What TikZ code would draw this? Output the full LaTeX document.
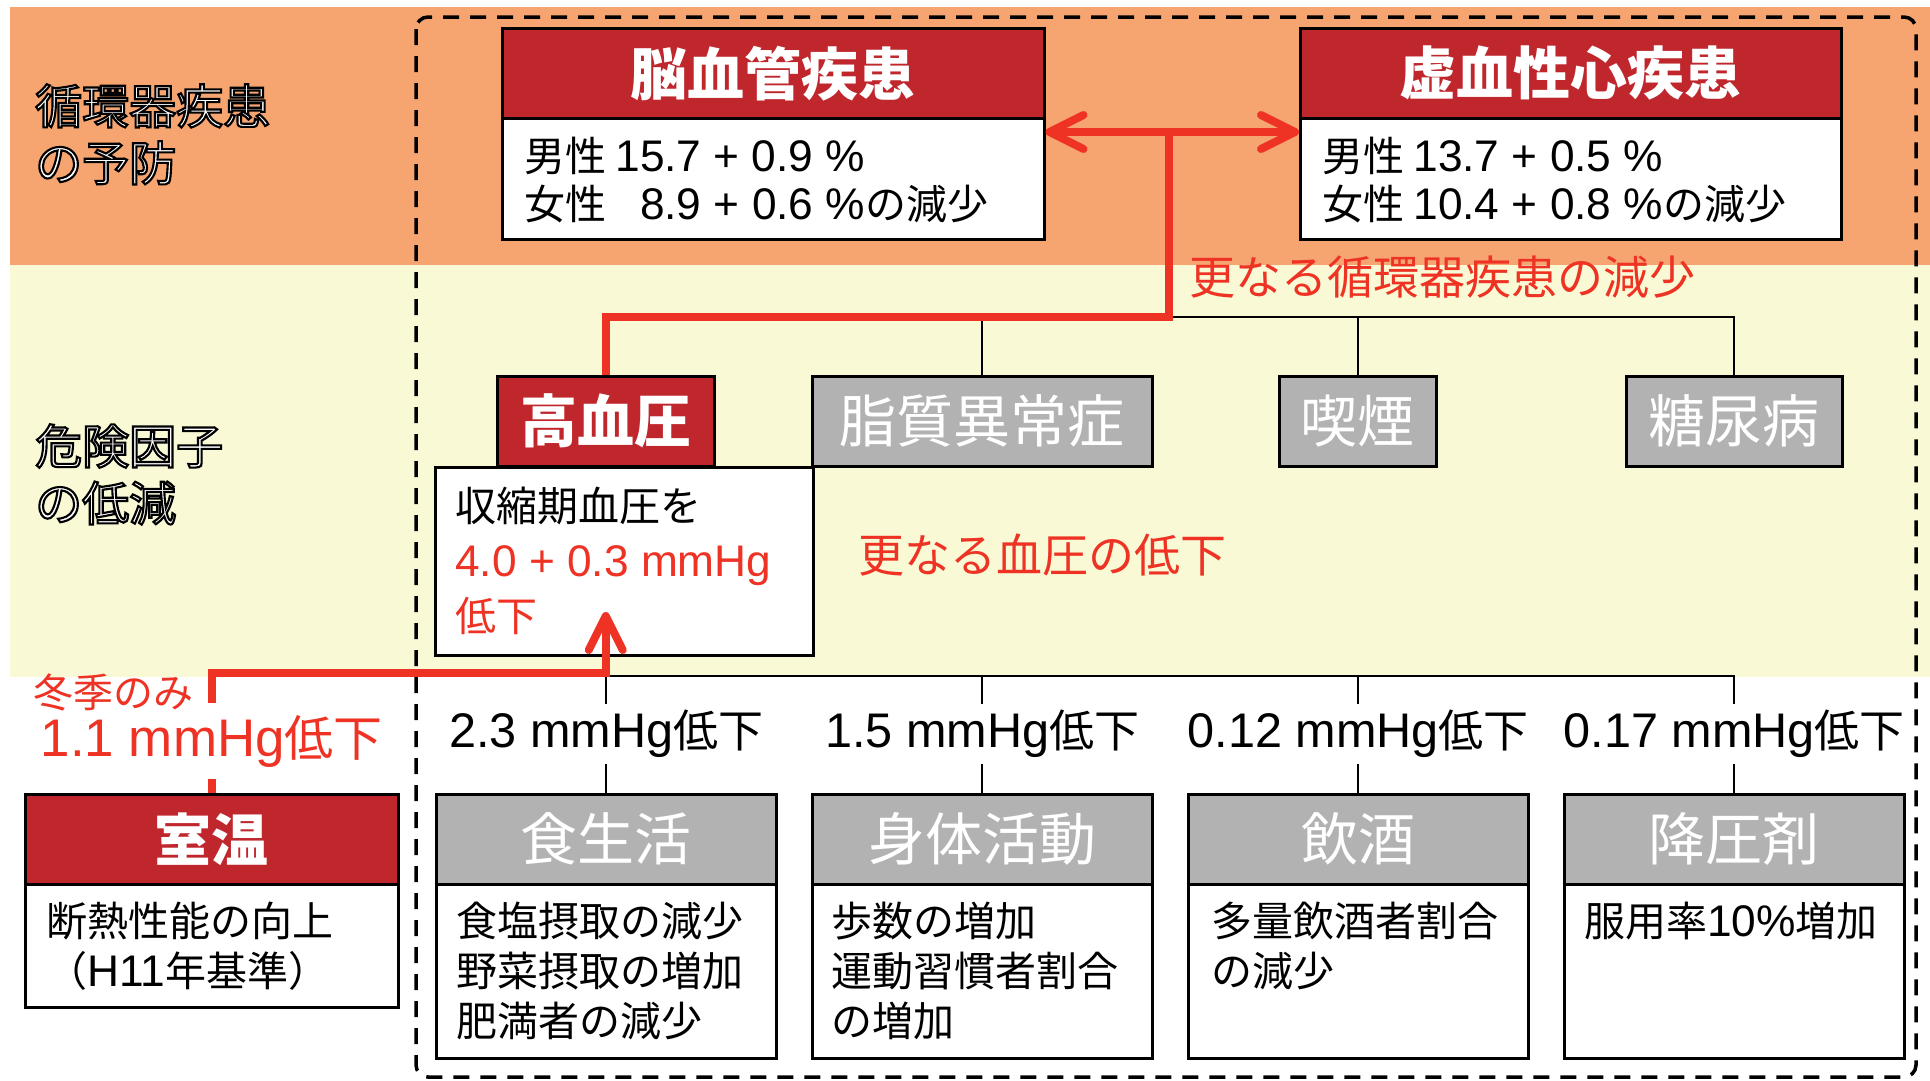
\documentclass[tikz,border=0pt]{standalone}
\usepackage{fontspec}
\setmainfont{Noto Sans CJK JP}
\newfontfamily\lat{Liberation Sans}[Scale=1.08]
\newfontfamily\outfont{Noto Sans CJK JP}[FakeBold=4.5]
\usetikzlibrary{arrows.meta}
\definecolor{bandorange}{RGB}{247,165,112}
\definecolor{bandyellow}{RGB}{250,249,214}
\definecolor{hdrred}{RGB}{192,39,45}
\definecolor{linered}{RGB}{238,50,36}
\definecolor{boxgray}{RGB}{178,178,178}
\newcommand\outl[1]{{\outfont\special{pdf:code q 1 1 1 rg 0 0 0 RG}#1\special{pdf:code Q}}}
\tikzset{
  rbarb/.tip={Straight Barb[length=34pt,width=34pt,round]},
  hdr/.style={draw=black,line width=2.5pt,minimum height=90pt,inner sep=0pt,text=white,anchor=north west,font=\fontsize{57}{64}\selectfont},
  redhdr/.style={hdr,fill=hdrred,font=\fontsize{57}{64}\selectfont\bfseries},
  grayhdr/.style={hdr,fill=boxgray},
  bodybox/.style={draw=black,line width=2.5pt,fill=white,anchor=north west,inner sep=0pt},
  bodytext/.style={anchor=north west,inner sep=0pt,align=left,font=\fontsize{41}{50}\selectfont},
  redline/.style={draw=linered,line width=8pt},
  thinline/.style={draw=black,line width=2pt},
  lab/.style={inner sep=6pt,font=\fontsize{45}{50}\selectfont},
  redtxt/.style={text=linered,inner sep=0pt,anchor=west,font=\fontsize{46}{52}\selectfont},
  sidelab/.style={anchor=north west,inner sep=0pt,align=left,font=\fontsize{47}{57}\selectfont},
  frame/.style={draw=black,line width=3.5pt,dash pattern=on 16pt off 11pt,rounded corners=12pt}
}
\begin{document}
\begin{tikzpicture}[x=1pt,y=-1pt]
\useasboundingbox (0,0) rectangle (1930,1080);
\fill[white] (0,0) rectangle (1930,1080);
% bands
\fill[bandorange] (10,7) rectangle (1930,265);
\fill[bandyellow] (10,265) rectangle (1930,677);
% frame
\draw[frame] (416,17) rectangle (1916,1077);
% side labels
\node[sidelab] (sideA) at (35,84) {\outl{循環器疾患}\\\outl{の予防}};
\node[sidelab] (sideB) at (35,424) {\outl{危険因子}\\\outl{の低減}};
% top boxes
\node[redhdr,minimum width=542pt] (nouH) at (501,27) {脳血管疾患};
\node[bodybox,minimum width=542pt,minimum height=121pt] (nouB) at (501,117) {};
\node[bodytext,font=\fontsize{41}{48}\selectfont] (nouT) at (524,137) {男性 {\lat 15.7 + 0.9 \%}\\女性 {\lat\hphantom{1}8.9 + 0.6 \%}の減少};
\node[redhdr,minimum width=541pt] (kyoH) at (1299,27) {虚血性心疾患};
\node[bodybox,minimum width=541pt,minimum height=121pt] (kyoB) at (1299,117) {};
\node[bodytext,font=\fontsize{41}{48}\selectfont] (kyoT) at (1322,137) {男性 {\lat 13.7 + 0.5 \%}\\女性 {\lat 10.4 + 0.8 \%}の減少};
% risk factors
\node[redhdr,minimum width=217pt] (kou) at (496,375) {高血圧};
\node[grayhdr,minimum width=340pt] (shi) at (811,375) {脂質異常症};
\node[grayhdr,minimum width=157pt] (kit) at (1278,375) {喫煙};
\node[grayhdr,minimum width=216pt] (tou) at (1625,375) {糖尿病};
\node[bodybox,minimum width=378pt,minimum height=188pt] (kouB) at (434,466) {};
\node[bodytext,font=\fontsize{41}{55}\selectfont] (kouT) at (455,487) {収縮期血圧を\\\textcolor{linered}{{\lat 4.0 + 0.3 mmHg}}\\\textcolor{linered}{低下}};
\node[redtxt] (moreCV) at (1189,277) {更なる循環器疾患の減少};
\node[redtxt] (moreBP) at (858,555) {更なる血圧の低下};
% bottom boxes
\node[redhdr,minimum width=373pt] (shiH) at (24,793) {室温};
\node[bodybox,minimum width=373pt,minimum height=123pt] (shiB) at (24,883) {};
\node[bodytext] (shiT) at (46,902) {断熱性能の向上\\（{\lat H11}年基準）};
\node[grayhdr,minimum width=340pt] (shoH) at (435,793) {食生活};
\node[bodybox,minimum width=340pt,minimum height=174pt] (shoB) at (435,883) {};
\node[bodytext] (shoT) at (456,902) {食塩摂取の減少\\野菜摂取の増加\\肥満者の減少};
\node[grayhdr,minimum width=340pt] (shinH) at (811,793) {身体活動};
\node[bodybox,minimum width=340pt,minimum height=174pt] (shinB) at (811,883) {};
\node[bodytext] (shinT) at (831,902) {歩数の増加\\運動習慣者割合\\の増加};
\node[grayhdr,minimum width=340pt] (inH) at (1187,793) {飲酒};
\node[bodybox,minimum width=340pt,minimum height=174pt] (inB) at (1187,883) {};
\node[bodytext] (inT) at (1211,902) {多量飲酒者割合\\の減少};
\node[grayhdr,minimum width=340pt] (kaH) at (1563,793) {降圧剤};
\node[bodybox,minimum width=340pt,minimum height=174pt] (kaB) at (1563,883) {};
\node[bodytext] (kaT) at (1584,902) {服用率{\lat 10\%}増加};
% labels
\node[lab] (l1) at (shoH.north |- 0,734) {{\lat 2.3 mmHg}低下};
\node[lab] (l2) at (shinH.north |- 0,734) {{\lat 1.5 mmHg}低下};
\node[lab] (l3) at (inH.north |- 0,734) {{\lat 0.12 mmHg}低下};
\node[lab] (l4) at (kaH.north |- 0,734) {{\lat 0.17 mmHg}低下};
\node[lab,text=linered,font=\fontsize{49}{54}\selectfont,inner ysep=12pt] (lr) at (shiH.north |- 0,741) {{\lat 1.1 mmHg}低下};
\node[redtxt,font=\fontsize{40}{46}\selectfont] (winter) at (33,692) {冬季のみ};
% thin connectors bottom
\coordinate (bus) at (604,676);
\draw[thinline] (shoH.north) -- (l1.south);
\draw[thinline] (shinH.north) -- (l2.south);
\draw[thinline] (inH.north) -- (l3.south);
\draw[thinline] (kaH.north) -- (l4.south);
\draw[thinline] (l1.north) -- (l1.north |- bus) -- (l4.north |- bus) -- (l4.north);
\draw[thinline] (l2.north) -- (l2.north |- bus);
\draw[thinline] (l3.north) -- (l3.north |- bus);
% thin connectors top
\coordinate (jtop) at (1169,132);
\coordinate (jmid) at (1169,317);
\draw[thinline] (shi.north) |- (jmid);
\draw[thinline] (kit.north) |- (jmid);
\draw[thinline] (tou.north) |- (jmid);
% red connectors
\draw[redline,rbarb-rbarb] (nouB.east |- jtop) -- (kyoB.west |- jtop);
\draw[redline] (jtop) -- (jmid) -| (kou.north);
\coordinate (tip) at (kou.south |- 0,612);
\coordinate (rbend) at (kou.south |- 0,673);
\draw[redline] (shiH.north) -- (lr.south);
\draw[redline,-rbarb] (lr.north) |- (rbend) -- (tip);
\end{tikzpicture}
\end{document}
